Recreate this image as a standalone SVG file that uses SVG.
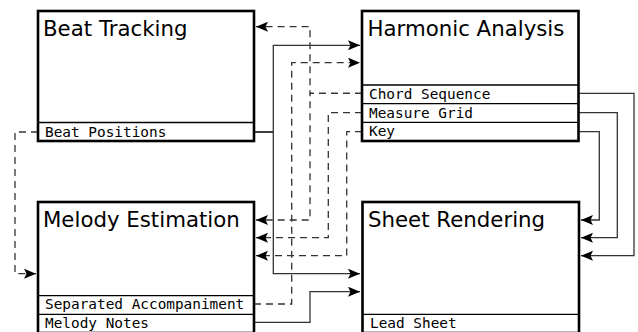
<svg xmlns="http://www.w3.org/2000/svg" width="638" height="332" viewBox="0 0 638 332">
<style>
.box{fill:#fff;stroke:#000;stroke-width:2.6}
.sep{stroke:#000;stroke-width:1.3;fill:none}
.title{font-family:"DejaVu Sans",sans-serif;font-size:21.3px;fill:#000}
.lbl{font-family:"DejaVu Sans Mono",monospace;font-size:14.4px;fill:#000}
.c{fill:none;stroke:#333;stroke-width:1.3}
.d{stroke-dasharray:7,5}
</style>
<defs>
<marker id="ah" markerUnits="userSpaceOnUse" markerWidth="13" markerHeight="11" refX="12" refY="5" orient="auto">
<path d="M0,0 L12,5 L0,10 L2.5,5 z" fill="#000"/>
</marker>
</defs>
<rect width="638" height="332" fill="#fff"/>
<g id="connectors">
<path class="c" d="M254,132 H273.3 V45.3 H360" marker-end="url(#ah)"/>
<path class="c" d="M254,132 H273.3 V273.7 H360" marker-end="url(#ah)"/>
<path class="c d" d="M38,132 H15 V273.7 H36" marker-end="url(#ah)"/>
<path class="c d" d="M362,93.3 H310 V26.7 H256" marker-end="url(#ah)"/>
<path class="c d" d="M362,93.3 H310 V220 H256" marker-end="url(#ah)"/>
<path class="c d" d="M362,112.7 H328.3 V237.7 H256" marker-end="url(#ah)"/>
<path class="c d" d="M362,131.7 H346.7 V255.7 H256" marker-end="url(#ah)"/>
<path class="c d" d="M254,304 H291.7 V62.7 H360" marker-end="url(#ah)"/>
<path class="c" d="M254,322.3 H310 V291.7 H360" marker-end="url(#ah)"/>
<path class="c" d="M578,93.3 H634 V255.7 H581" marker-end="url(#ah)"/>
<path class="c" d="M578,112.7 H617.3 V237.7 H581" marker-end="url(#ah)"/>
<path class="c" d="M578,131.7 H599.3 V220 H581" marker-end="url(#ah)"/>
</g>
<g id="beat-tracking">
<rect class="box" x="38" y="11" width="216" height="130"/>
<line class="sep" x1="38" y1="122.5" x2="254" y2="122.5"/>
<text class="title" x="43" y="36">Beat Tracking</text>
<text class="lbl" x="45" y="136.5">Beat Positions</text>
</g>
<g id="harmonic-analysis">
<rect class="box" x="362" y="11" width="216.5" height="130"/>
<line class="sep" x1="362" y1="85" x2="578.5" y2="85"/>
<line class="sep" x1="362" y1="103.7" x2="578.5" y2="103.7"/>
<line class="sep" x1="362" y1="122.3" x2="578.5" y2="122.3"/>
<text class="title" x="367.5" y="36">Harmonic Analysis</text>
<text class="lbl" x="369" y="98.8">Chord Sequence</text>
<text class="lbl" x="369" y="117.5">Measure Grid</text>
<text class="lbl" x="369" y="136.2">Key</text>
</g>
<g id="melody-estimation">
<rect class="box" x="38" y="202" width="216" height="131"/>
<line class="sep" x1="38" y1="295.7" x2="254" y2="295.7"/>
<line class="sep" x1="38" y1="314.3" x2="254" y2="314.3"/>
<text class="title" x="43" y="227">Melody Estimation</text>
<text class="lbl" x="45" y="309">Separated Accompaniment</text>
<text class="lbl" x="45" y="327.5">Melody Notes</text>
</g>
<g id="sheet-rendering">
<rect class="box" x="362.5" y="202" width="216.5" height="131"/>
<line class="sep" x1="362.5" y1="314.3" x2="579" y2="314.3"/>
<text class="title" x="368" y="227">Sheet Rendering</text>
<text class="lbl" x="370" y="327.5">Lead Sheet</text>
</g>
</svg>
